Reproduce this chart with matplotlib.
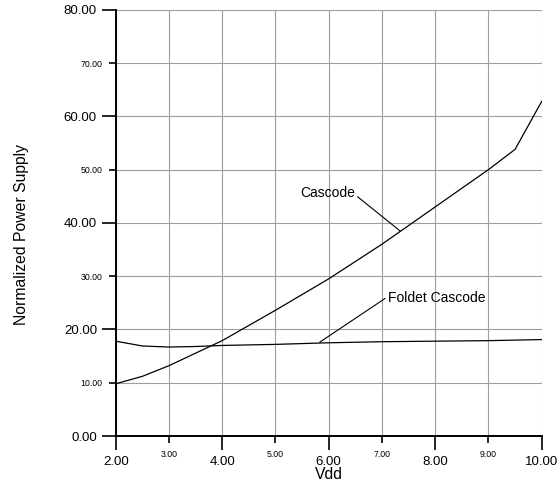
import matplotlib
matplotlib.use("Agg")
import matplotlib.pyplot as plt

plt.rcParams['font.family'] = ['Liberation Sans', 'DejaVu Sans']

# values
vdd_cascode = [2.0, 2.5, 3.0, 4.0, 5.0, 6.0, 7.0, 8.0, 9.0, 9.5, 10.0]
cascode = [9.8, 11.2, 13.2, 17.9, 23.6, 29.5, 36.0, 43.0, 50.0, 53.8, 62.8]

vdd_folded = [2.0, 2.5, 3.0, 3.5, 4.0, 5.0, 6.0, 7.0, 8.0, 9.0, 10.0]
folded = [17.8, 16.9, 16.7, 16.8, 17.0, 17.2, 17.5, 17.7, 17.8, 17.9, 18.1]

x_major = [2, 4, 6, 8, 10]
x_minor = [3, 5, 7, 9]
y_major = [0, 20, 40, 60, 80]
y_minor = [10, 30, 50, 70]

fig = plt.figure(figsize=(5.59, 4.91), dpi=100)
ax = fig.add_axes([0.207, 0.112, 0.762, 0.868])

ax.plot(vdd_cascode, cascode, color='black', lw=0.9)
ax.plot(vdd_folded, folded, color='black', lw=0.9)

ax.set_xlim(2, 10)
ax.set_ylim(0, 80)
ax.set_xticks(x_major)
ax.set_xticks(x_minor, minor=True)
ax.set_yticks(y_major)
ax.set_yticks(y_minor, minor=True)
ax.set_xticklabels([f"{v:.2f}" for v in x_major], fontsize=9.5)
ax.set_xticklabels([f"{v:.2f}" for v in x_minor], minor=True, fontsize=6.3)
ax.set_yticklabels([f"{v:.2f}" for v in y_major], fontsize=9.5)
ax.set_yticklabels([f"{v:.2f}" for v in y_minor], minor=True, fontsize=6.3)

ax.tick_params(which='major', direction='out', length=10, width=1.2)
ax.tick_params(which='minor', direction='out', length=5, width=1.2)
ax.tick_params(axis='x', which='major', pad=4.5)
ax.tick_params(axis='x', which='minor', pad=5)
ax.tick_params(axis='y', which='major', pad=3.5)
ax.tick_params(axis='y', which='minor', pad=4.5)

# grid is a fine grey dotted line, drawn solid mid grey here
ax.grid(True, which='both', color='0.62', lw=0.8)
ax.set_axisbelow(True)

for s in ['top', 'right']:
    ax.spines[s].set_visible(False)
for s in ['left', 'bottom']:
    ax.spines[s].set_linewidth(1.4)

ax.set_xlabel("Vdd", fontsize=11.3)
ax.xaxis.set_label_coords(0.5, -0.072)
ax.set_ylabel("Normalized Power Supply", fontsize=11.3)
ax.yaxis.set_label_coords(-0.203, 0.472)

ax.annotate("Cascode", xy=(7.34, 38.5), xytext=(6.49, 45.6), ha='right', va='center',
            fontsize=10,
            arrowprops=dict(arrowstyle='-', color='black', lw=0.8, relpos=(1, 0.4),
                            shrinkA=0, shrinkB=0))
ax.annotate("Foldet Cascode", xy=(5.83, 17.6), xytext=(7.11, 25.9), ha='left', va='center',
            fontsize=10,
            arrowprops=dict(arrowstyle='-', color='black', lw=0.8, relpos=(0, 0.6),
                            shrinkA=0, shrinkB=0))

fig.savefig("out.png", dpi=100)
